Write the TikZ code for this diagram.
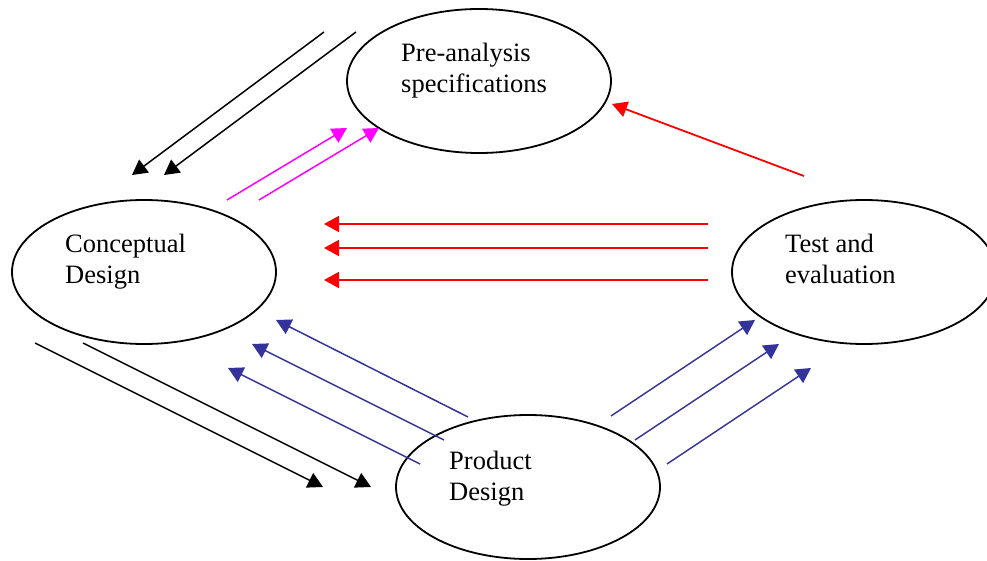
\documentclass[tikz,border=0pt]{standalone}
\usepackage{fontspec}
\setmainfont{Liberation Serif}
\usetikzlibrary{arrows.meta,shapes.geometric}
\definecolor{pdblue}{RGB}{51,51,153}
\definecolor{pdmag}{RGB}{255,0,255}
\definecolor{pdred}{RGB}{255,0,0}
\begin{document}
\begin{tikzpicture}[x=1pt,y=-1pt,
  bubble/.style={draw, ellipse, line width=1.8pt, minimum width=264pt, minimum height=144pt, inner sep=0pt},
  lbl/.style={anchor=base west, inner sep=0pt, font=\fontsize{26.5}{31}\selectfont},
  flow/.style={line width=1.5pt, -{Triangle[length=15pt,width=16pt]}},
  blk/.style={flow, black},
  mag/.style={flow, pdmag},
  rd/.style={flow, pdred, line width=1.8pt},
  bl/.style={flow, pdblue}]
\useasboundingbox (0,0) rectangle (987,561);
\clip (0,0) rectangle (987,561);

% ellipses
\node[bubble] (pre) at (479,81) {};
\node[bubble] (con) at (144,272) {};
\node[bubble] (tst) at (864,272) {};
\node[bubble] (prd) at (528,487) {};

% texts
\node[lbl] (pret) at (401,62) {\begin{tabular}[t]{@{}l@{}}Pre-analysis\\specifications\end{tabular}};
\node[lbl] (cont) at (65,253) {\begin{tabular}[t]{@{}l@{}}Conceptual\\Design\end{tabular}};
\node[lbl] (tstt) at (785,253) {\begin{tabular}[t]{@{}l@{}}Test and\\evaluation\end{tabular}};
\node[lbl] (prdt) at (449,469) {\begin{tabular}[t]{@{}l@{}}Product\\Design\end{tabular}};

% endpoints
\coordinate (k1s) at (324,32);  \coordinate (k1e) at (132,175);
\coordinate (k2s) at (356,32);  \coordinate (k2e) at (164,175);
\coordinate (k3s) at (35,343);  \coordinate (k3e) at (323,487);
\coordinate (k4s) at (83,343);  \coordinate (k4e) at (371,487);

\coordinate (m1s) at (227,200); \coordinate (m1e) at (347,128);
\coordinate (m2s) at (259,200); \coordinate (m2e) at (379,128);

\coordinate (r0s) at (804,176); \coordinate (r0e) at (612,104);
\coordinate (r1s) at (708,224); \coordinate (r1e) at (324,224);
\coordinate (r2s) at (708,248); \coordinate (r2e) at (324,248);
\coordinate (r3s) at (708,280); \coordinate (r3e) at (324,280);

\coordinate (b1s) at (468,417); \coordinate (b1e) at (276,320);
\coordinate (b2s) at (444,440); \coordinate (b2e) at (252,344);
\coordinate (b3s) at (420,464); \coordinate (b3e) at (228,368);
\coordinate (b4s) at (611,416); \coordinate (b4e) at (755,320);
\coordinate (b5s) at (635,440); \coordinate (b5e) at (779,344);
\coordinate (b6s) at (667,464); \coordinate (b6e) at (811,368);

% arrows
\draw[blk] (k1s) -- (k1e);
\draw[blk] (k2s) -- (k2e);
\draw[blk] (k3s) -- (k3e);
\draw[blk] (k4s) -- (k4e);

\draw[mag] (m1s) -- (m1e);
\draw[mag] (m2s) -- (m2e);

\draw[rd] (r0s) -- (r0e);
\draw[rd] (r1s) -- (r1e);
\draw[rd] (r2s) -- (r2e);
\draw[rd] (r3s) -- (r3e);

\draw[bl] (b1s) -- (b1e);
\draw[bl] (b2s) -- (b2e);
\draw[bl] (b3s) -- (b3e);
\draw[bl] (b4s) -- (b4e);
\draw[bl] (b5s) -- (b5e);
\draw[bl] (b6s) -- (b6e);
\end{tikzpicture}
\end{document}
